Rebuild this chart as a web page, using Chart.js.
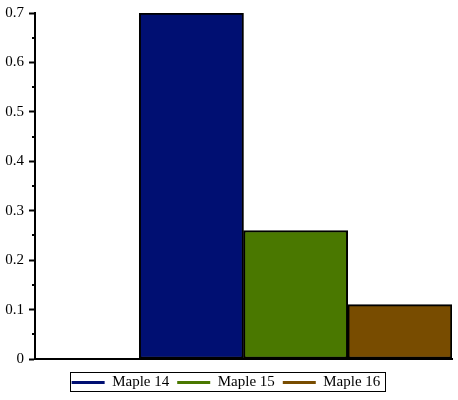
<!DOCTYPE html>
<html>
<head>
<meta charset="utf-8">
<script src="https://cdn.jsdelivr.net/npm/chart.js@4"></script>
<style>
  html, body { margin: 0; padding: 0; background: #fff; }
  #wrap { width: 458px; height: 400px; }
</style>
</head>
<body>
<div id="wrap"><canvas id="myChart" width="458" height="400"></canvas></div>
<script>
// categories (first slot is empty, bars fill the other three)
const categories = ['', 'Maple 14', 'Maple 15', 'Maple 16'];
const versions = ['Maple 14', 'Maple 15', 'Maple 16'];
const values = [0.7, 0.26, 0.11];
const colors = ['#000f72', '#4a7800', '#784c00'];

// one dataset per version so each shows up in the legend
const datasets = versions.map((name, i) => {
  const data = categories.map(c => (c === name ? values[i] : null));
  return {
    label: name,
    data: data,
    backgroundColor: colors[i],
    borderColor: '#000',
    borderWidth: 2,
    borderSkipped: false,
    grouped: false,
    barPercentage: 1,
    categoryPercentage: 1
  };
});

// minor ticks on the y axis + box around the legend
const extras = {
  id: 'extras',
  afterDraw(chart) {
    const ctx = chart.ctx;
    const y = chart.scales.y;
    ctx.save();
    ctx.strokeStyle = '#000';
    ctx.lineWidth = 2;
    for (let v = 0.05; v < 0.7; v += 0.1) {
      const py = Math.round(y.getPixelForValue(v));
      ctx.beginPath();
      ctx.moveTo(y.right - 3, py);
      ctx.lineTo(y.right, py);
      ctx.stroke();
    }
    const boxes = chart.legend.legendHitBoxes;
    if (boxes && boxes.length) {
      let l = Infinity, r = -Infinity, t = Infinity, b = -Infinity;
      boxes.forEach(h => {
        l = Math.min(l, h.left); r = Math.max(r, h.left + h.width);
        t = Math.min(t, h.top); b = Math.max(b, h.top + h.height);
      });
      ctx.lineWidth = 1;
      ctx.strokeRect(Math.round(l - 2) + 0.5, Math.round(t - 3) + 0.5, Math.round(r - l + 6), Math.round(b - t + 4));
    }
    ctx.restore();
  }
};

new Chart(document.getElementById('myChart'), {
  type: 'bar',
  data: { labels: categories, datasets: datasets },
  plugins: [extras],
  options: {
    responsive: false,
    animation: false,
    layout: { padding: { top: 13, right: 6, left: 0, bottom: 0 } },
    plugins: {
      tooltip: { enabled: false },
      legend: {
        position: 'bottom',
        labels: {
          font: { family: 'Liberation Serif', size: 15 },
          color: '#000',
          usePointStyle: true,
          pointStyleWidth: 33,
          boxHeight: 15,
          padding: 8,
          generateLabels(chart) {
            return versions.map((name, i) => ({
              text: name,
              strokeStyle: colors[i],
              fillStyle: colors[i],
              lineWidth: 3,
              pointStyle: 'line',
              datasetIndex: i
            }));
          }
        }
      }
    },
    scales: {
      x: {
        ticks: { display: false },
        grid: { display: false },
        border: { color: '#000', width: 2 },
        afterFit(scale) { scale.height = 8; }
      },
      y: {
        min: 0,
        max: 0.7,
        ticks: {
          stepSize: 0.1,
          color: '#000',
          padding: 5,
          font: { family: 'Liberation Serif', size: 15 },
          callback: v => Math.round(v * 10) / 10
        },
        grid: { drawOnChartArea: false, tickLength: 6, tickColor: '#000', tickWidth: 2 },
        border: { color: '#000', width: 2 },
        afterFit(scale) { scale.width = 35; scale.paddingTop = 0; scale.paddingBottom = 0; }
      }
    }
  }
});
</script>
</body>
</html>
